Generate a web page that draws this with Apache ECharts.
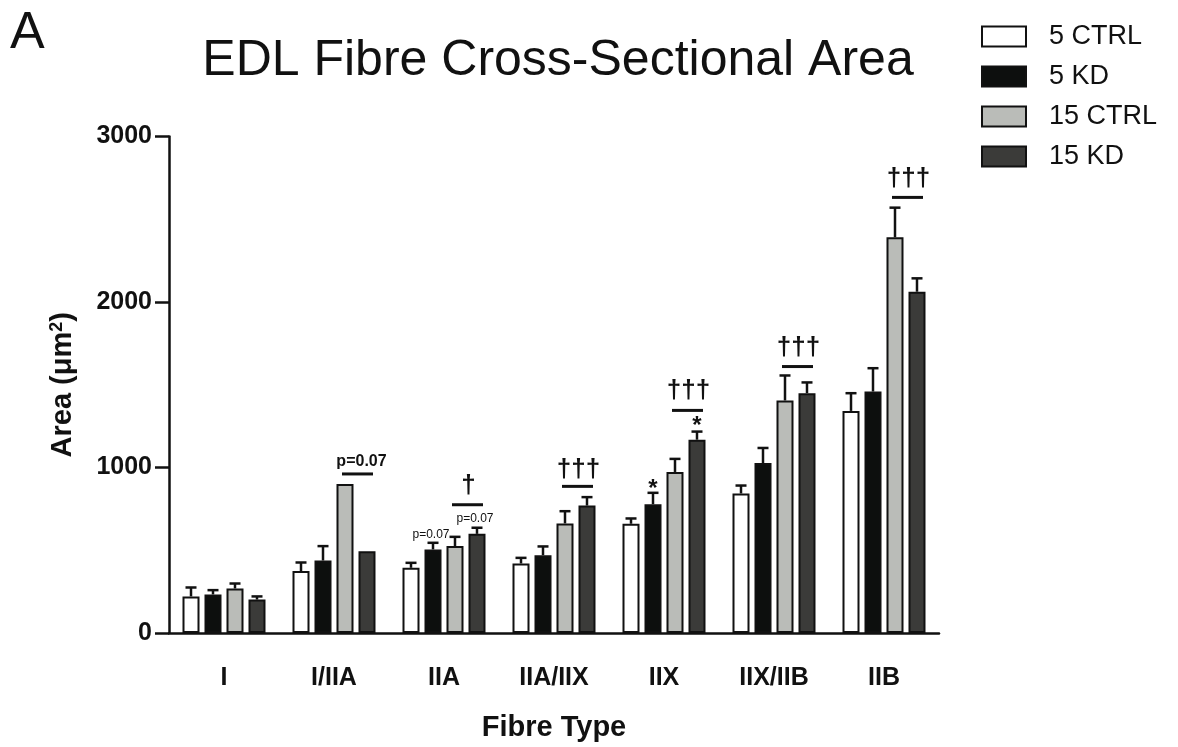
<!DOCTYPE html>
<html>
<head>
<meta charset="utf-8">
<script src="https://cdn.jsdelivr.net/npm/echarts@6/dist/echarts.min.js"></script>
<style>
html,body{margin:0;padding:0;background:#fff;}
#chart{width:1178px;height:747px;}
</style>
</head>
<body>
<div id="chart"></div>
<script>
// ---- data ----
const categories = ['I', 'I/IIA', 'IIA', 'IIA/IIX', 'IIX', 'IIX/IIB', 'IIB'];
const seriesNames = ['5 CTRL', '5 KD', '15 CTRL', '15 KD'];
const ctrl5  = [221, 374, 394, 420, 660, 843, 1342];
const kd5    = [233, 438, 505, 470, 778, 1027, 1459];
const ctrl15 = [269, 900, 525, 662, 973, 1405, 2391];
const kd15   = [202, 494, 599, 770, 1168, 1449, 2062];
// upper error (SEM) per bar
const ctrl5Err  = [54, 52, 30, 34, 32, 48, 107];
const kd5Err    = [26, 87, 40, 53, 69, 91, 141];
const ctrl15Err = [30, 0, 56, 74, 79, 151, 179];
const kd15Err   = [19, 0, 37, 51, 49, 65, 81];
const yTicks = [0, 1000, 2000, 3000];
// significance brackets between 15 CTRL and 15 KD: [category, line value, label value]
const brackets = [[1, 961, 1037], [2, 775, 890], [3, 886, 987], [4, 1345, 1466], [5, 1610, 1726], [6, 2632, 2747]];
const bracketLabels = ['p=0.07', '\u2020', '\u2020\u2020\u2020', '\u2020\u2020\u2020', '\u2020\u2020\u2020', '\u2020\u2020\u2020'];
// small p labels above bars: [category, bar index, value]
const smallP = [[2, 1, 594], [2, 3, 689]];
const smallPLabels = ['p=0.07', 'p=0.07'];
// asterisks: [category, bar index, value]
const stars = [[4, 1, 896], [4, 3, 1278]];

// ---- styles ----
const FONT = '"Liberation Sans", Arial, Helvetica, sans-serif';
const INK = '#111';
const colors = ['#ffffff', '#0d0f0e', '#babcb8', '#3b3b39'];
const BAR_W = 17;
const BAR_GAP = 0.294;
const STEP = BAR_W * (1 + BAR_GAP);

const means = [ctrl5, kd5, ctrl15, kd15];
const errs = [ctrl5Err, kd5Err, ctrl15Err, kd15Err];

const errData = [];
means.forEach((arr, s) => arr.forEach((v, c) => {
  if (errs[s][c] > 0) errData.push([c, s, v, v + errs[s][c]]);
}));

function barX(api, cat, idx) {
  return api.coord([cat, 0])[0] + (idx - 1.5) * STEP;
}

const chart = echarts.init(document.getElementById('chart'), null, {renderer: 'canvas'});

const barSeries = seriesNames.map((n, i) => ({
  name: n,
  type: 'bar',
  data: means[i],
  barWidth: BAR_W,
  barGap: (BAR_GAP * 100) + '%',
  itemStyle: {color: colors[i], borderColor: INK, borderWidth: 2},
  emphasis: {disabled: true},
  z: 2
}));

const option = {
  animation: false,
  backgroundColor: '#fff',
  textStyle: {fontFamily: FONT},
  grid: {left: 169, right: 239, top: 136.5, bottom: 113.5, containLabel: false},
  legend: {
    data: seriesNames,
    orient: 'vertical',
    left: 981, top: 23,
    padding: 0,
    icon: 'rect',
    itemWidth: 44, itemHeight: 20, itemGap: 13,
    textStyle: {fontSize: 27, color: INK, fontFamily: FONT, padding: [0, 0, 0, 18]},
    selectedMode: false
  },
  xAxis: {
    type: 'category',
    data: categories,
    name: 'Fibre Type',
    nameLocation: 'middle',
    nameGap: 80,
    nameTextStyle: {fontSize: 29, fontWeight: 'bold', color: INK, fontFamily: FONT},
    axisLine: {lineStyle: {color: INK, width: 2.5}},
    axisTick: {alignWithLabel: true, length: 12, lineStyle: {color: INK, width: 2.5}},
    axisLabel: {fontSize: 25, fontWeight: 'bold', color: INK, margin: 33, fontFamily: FONT}
  },
  yAxis: {
    type: 'value',
    min: yTicks[0], max: yTicks[yTicks.length - 1], interval: yTicks[1] - yTicks[0],
    name: 'Area (\u03bcm{sup|2})',
    nameLocation: 'middle',
    nameRotate: 90,
    nameGap: 92,
    nameTextStyle: {fontSize: 29, fontWeight: 'bold', color: INK, fontFamily: FONT,
      rich: {sup: {fontSize: 18, fontWeight: 'bold', verticalAlign: 'top', color: INK, fontFamily: FONT, padding: [0, 0, 10, 0]}}},
    axisLine: {show: true, lineStyle: {color: INK, width: 2.5}},
    axisTick: {show: true, length: 14, lineStyle: {color: INK, width: 2.5}},
    axisLabel: {fontSize: 25, fontWeight: 'bold', color: INK, margin: 17, fontFamily: FONT,
      padding: [12, 0, 0, 0], formatter: function (v) { return String(v); }},
    splitLine: {show: false}
  },
  graphic: [
    {type: 'text', left: 10, top: 8, style: {text: 'A', font: '52px ' + FONT, fill: INK}},
    {type: 'text', x: 558, y: 61, style: {text: 'EDL Fibre Cross-Sectional Area', font: '50px ' + FONT, fill: INK, textAlign: 'center', textVerticalAlign: 'middle'}}
  ],
  series: barSeries.concat([
    {
      type: 'custom',
      name: 'err',
      data: errData,
      encode: {x: 0, y: 3},
      z: 3,
      silent: true,
      renderItem: function (params, api) {
        const cat = api.value(0), s = api.value(1);
        const x = barX(api, cat, s);
        const yb = api.coord([cat, api.value(2)])[1];
        const yt = api.coord([cat, api.value(3)])[1];
        const st = {stroke: INK, lineWidth: 2.5};
        return {type: 'group', children: [
          {type: 'line', shape: {x1: x, y1: yb, x2: x, y2: yt}, style: st},
          {type: 'line', shape: {x1: x - 5.5, y1: yt, x2: x + 5.5, y2: yt}, style: st}
        ]};
      }
    },
    {
      type: 'custom',
      name: 'brackets',
      data: brackets,
      encode: {x: 0, y: 2},
      z: 3,
      silent: true,
      renderItem: function (params, api) {
        const cat = api.value(0);
        const x1 = barX(api, cat, 2) - 3, x2 = barX(api, cat, 3) + 6;
        const yl = api.coord([cat, api.value(1)])[1];
        const yt = api.coord([cat, api.value(2)])[1];
        const label = bracketLabels[params.dataIndex];
        const isP = label.indexOf('p') === 0;
        return {type: 'group', children: [
          {type: 'line', shape: {x1: x1, y1: yl, x2: x2, y2: yl}, style: {stroke: INK, lineWidth: 3}},
          {type: 'text', x: (x1 + x2) / 2 + (isP ? 4 : 1), y: yt,
            style: {text: label, font: (isP ? 'bold 16px ' : 'bold 26px ') + FONT, fill: INK, textAlign: 'center', textVerticalAlign: 'middle'}}
        ]};
      }
    },
    {
      type: 'custom',
      name: 'smallp',
      data: smallP,
      encode: {x: 0, y: 2},
      z: 3,
      silent: true,
      renderItem: function (params, api) {
        const cat = api.value(0);
        const x = barX(api, cat, api.value(1));
        const y = api.coord([cat, api.value(2)])[1];
        return {type: 'text', x: x - 2, y: y,
          style: {text: smallPLabels[params.dataIndex], font: '12px ' + FONT, fill: INK, textAlign: 'center', textVerticalAlign: 'middle'}};
      }
    },
    {
      type: 'custom',
      name: 'stars',
      data: stars,
      encode: {x: 0, y: 2},
      z: 3,
      silent: true,
      renderItem: function (params, api) {
        const cat = api.value(0);
        const x = barX(api, cat, api.value(1));
        const y = api.coord([cat, api.value(2)])[1];
        return {type: 'text', x: x, y: y + 5,
          style: {text: '*', font: 'bold 24px ' + FONT, fill: INK, textAlign: 'center', textVerticalAlign: 'middle'}};
      }
    }
  ])
};
chart.setOption(option);
</script>
</body>
</html>
